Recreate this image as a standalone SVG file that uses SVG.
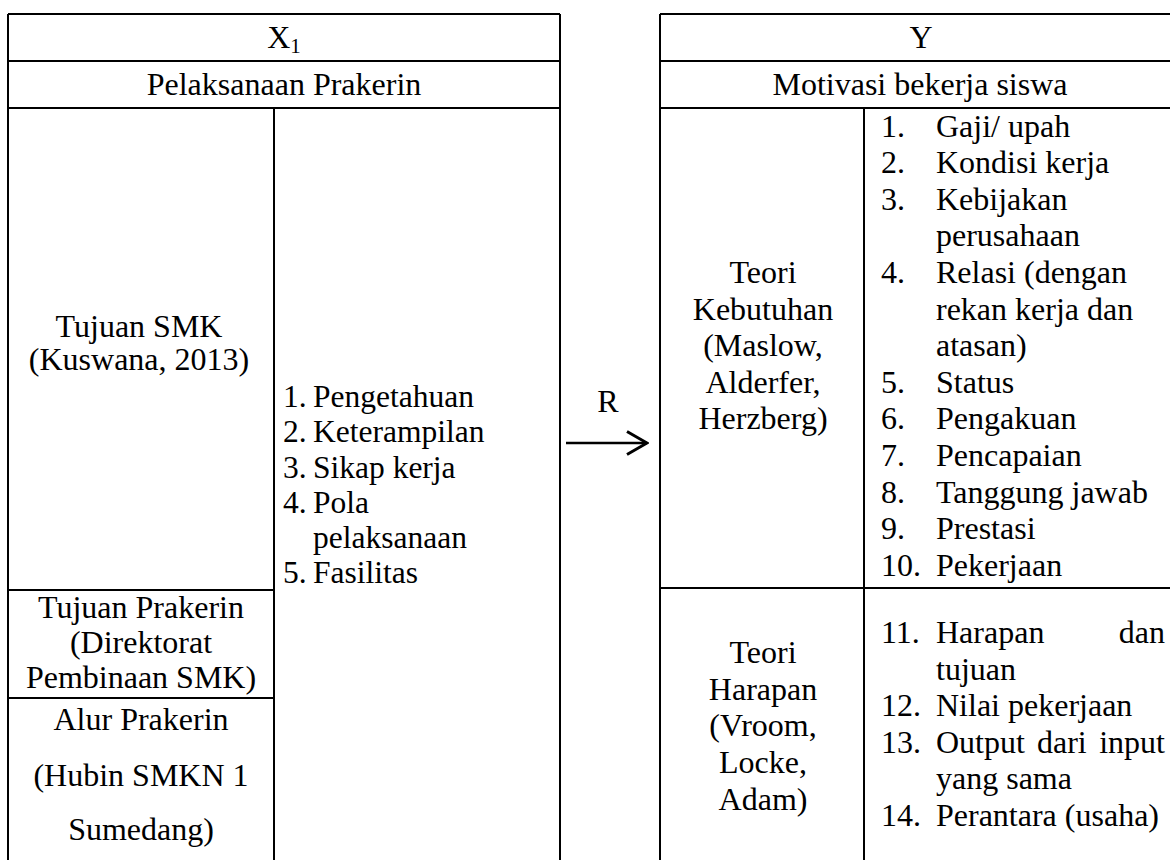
<svg xmlns="http://www.w3.org/2000/svg" width="1170" height="860" viewBox="0 0 1170 860">
<defs>
<style>
.ln{stroke:#000;stroke-width:2;fill:none}
text{font-family:"Liberation Serif","Times New Roman",serif;font-size:32px;fill:#000}
.c{text-anchor:middle}
.e{text-anchor:end}
.li{font-size:31.5px}
</style>
<marker id="chev" viewBox="0 0 24 26" refX="22" refY="13" markerWidth="24" markerHeight="26" markerUnits="userSpaceOnUse" orient="auto">
<path d="M2,1.5 L22,13 L2,24.5" fill="none" stroke="#000" stroke-width="3"/>
</marker>
</defs>
<rect width="1170" height="860" fill="#fff"/>

<g id="table-x1">
<path class="ln" d="M8,14 H560 M8,61 H560 M8,108 H560 M8,14 V860 M560,14 V860 M274,108 V860 M8,590 H274 M8,698 H274"/>
<text class="c" x="284" y="48">X<tspan font-size="21" dy="5">1</tspan></text>
<text class="c" x="284" y="95">Pelaksanaan Prakerin</text>
<g id="tujuan-smk">
<text class="c" x="139" y="337">Tujuan SMK</text>
<text class="c" x="139" y="370">(Kuswana, 2013)</text>
</g>
<g id="tujuan-prakerin">
<text class="c" x="141" y="618">Tujuan Prakerin</text>
<text class="c" x="141" y="653">(Direktorat</text>
<text class="c" x="141" y="688">Pembinaan SMK)</text>
</g>
<g id="alur-prakerin">
<text class="c" x="141" y="730">Alur Prakerin</text>
<text class="c" x="141" y="786">(Hubin SMKN 1</text>
<text class="c" x="141" y="840">Sumedang)</text>
</g>
<g id="list-x1">
<text class="li" x="283" y="407">1.</text><text class="li" x="313" y="407">Pengetahuan</text>
<text class="li" x="283" y="442">2.</text><text class="li" x="313" y="442">Keterampilan</text>
<text class="li" x="283" y="478">3.</text><text class="li" x="313" y="478">Sikap kerja</text>
<text class="li" x="283" y="513">4.</text><text class="li" x="313" y="513">Pola</text>
<text class="li" x="313" y="548">pelaksanaan</text>
<text class="li" x="283" y="583">5.</text><text class="li" x="313" y="583">Fasilitas</text>
</g>
</g>

<g id="connectors">
<line x1="566" y1="443" x2="647" y2="443" stroke="#000" stroke-width="2.6" marker-end="url(#chev)"/>
<text class="c" x="608" y="412">R</text>
</g>

<g id="table-y">
<path class="ln" d="M660,14 H1170 M660,61 H1170 M660,108 H1170 M660,14 V860 M864,108 V860 M660,588 H1170"/>
<text class="c" x="921" y="48">Y</text>
<text class="c" x="920" y="95">Motivasi bekerja siswa</text>
<g id="teori-kebutuhan">
<text class="c" x="763" y="283">Teori</text>
<text class="c" x="763" y="320">Kebutuhan</text>
<text class="c" x="763" y="356">(Maslow,</text>
<text class="c" x="763" y="393">Alderfer,</text>
<text class="c" x="763" y="429">Herzberg)</text>
</g>
<g id="list-kebutuhan">
<text x="881" y="137">1.</text><text x="936" y="137">Gaji/ upah</text>
<text x="881" y="173">2.</text><text x="936" y="173">Kondisi kerja</text>
<text x="881" y="210">3.</text><text x="936" y="210">Kebijakan</text>
<text x="936" y="246">perusahaan</text>
<text x="881" y="283">4.</text><text x="936" y="283">Relasi (dengan</text>
<text x="936" y="320">rekan kerja dan</text>
<text x="936" y="356">atasan)</text>
<text x="881" y="393">5.</text><text x="936" y="393">Status</text>
<text x="881" y="429">6.</text><text x="936" y="429">Pengakuan</text>
<text x="881" y="466">7.</text><text x="936" y="466">Pencapaian</text>
<text x="881" y="503">8.</text><text x="936" y="503">Tanggung jawab</text>
<text x="881" y="539">9.</text><text x="936" y="539">Prestasi</text>
<text x="881" y="576">10.</text><text x="936" y="576">Pekerjaan</text>
</g>
<g id="teori-harapan">
<text class="c" x="763" y="663">Teori</text>
<text class="c" x="763" y="700">Harapan</text>
<text class="c" x="763" y="736">(Vroom,</text>
<text class="c" x="763" y="773">Locke,</text>
<text class="c" x="763" y="810">Adam)</text>
</g>
<g id="list-harapan">
<text x="881" y="643">11.</text><text x="936" y="643">Harapan</text><text class="e" x="1165" y="643">dan</text>
<text x="936" y="680">tujuan</text>
<text x="881" y="716">12.</text><text x="936" y="716">Nilai pekerjaan</text>
<text x="881" y="753">13.</text><text x="936" y="753">Output</text><text x="1037" y="753">dari</text><text class="e" x="1165" y="753">input</text>
<text x="936" y="789">yang sama</text>
<text x="881" y="826">14.</text><text x="936" y="826">Perantara (usaha)</text>
</g>
</g>
</svg>
